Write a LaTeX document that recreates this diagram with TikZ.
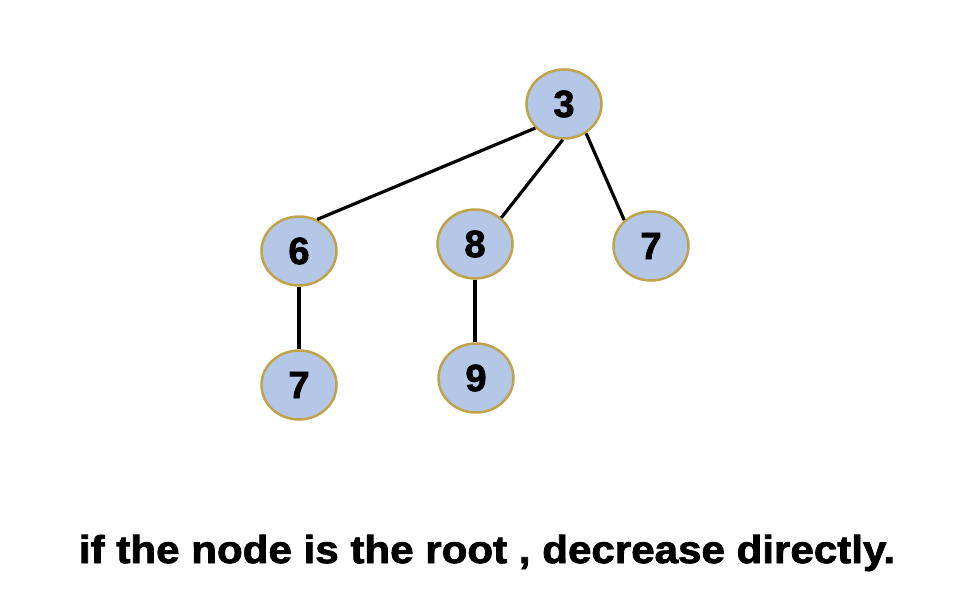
\documentclass[tikz,border=0pt]{standalone}
\usepackage{fontspec}
\setmainfont{Liberation Sans}
\newfontfamily\heavyfont{Liberation Sans}[BoldFeatures={FakeBold=2}]
\usetikzlibrary{shapes.geometric}
\definecolor{nodefill}{HTML}{B4C7E7}
\definecolor{nodeline}{HTML}{BFA34A}

\begin{document}
\begin{tikzpicture}[x=1pt, y=-1pt,
	heapnode/.style={ellipse, draw=nodeline, fill=nodefill, line width=2.5pt,
		minimum width=75pt, minimum height=69pt, inner sep=0pt,
		font=\heavyfont\fontsize{38}{38}\selectfont\bfseries},
	edge/.style={line width=3.2pt}]
	\useasboundingbox (0,0) rectangle (963,594);
	\node [heapnode] (n3) at (564,104) {3};
	\node [heapnode] (n6) at (299,251) {6};
	\node [heapnode] (n8) at (475,244) {8};
	\node [heapnode] (n7a) at (651,246) {7};
	\node [heapnode] (n7b) at (299,385) {7};
	\node [heapnode] (n9) at (476,378) {9};
	\draw [edge] (n3.220) -- (n6.60);
	\draw [edge] (n3.268) -- (n8.45);
	\draw [edge] (n3.307) -- (n7a.136);
	\draw [edge] (n6) -- (n7b);
	\draw [edge] (n8.south) -- (n8.south |- n9.north);
	\node [xscale=1.17, yscale=1.08] (caption) at (487,553) {\heavyfont\fontsize{36}{36}\selectfont\bfseries if the node is the root , decrease directly.};
\end{tikzpicture}
\end{document}
